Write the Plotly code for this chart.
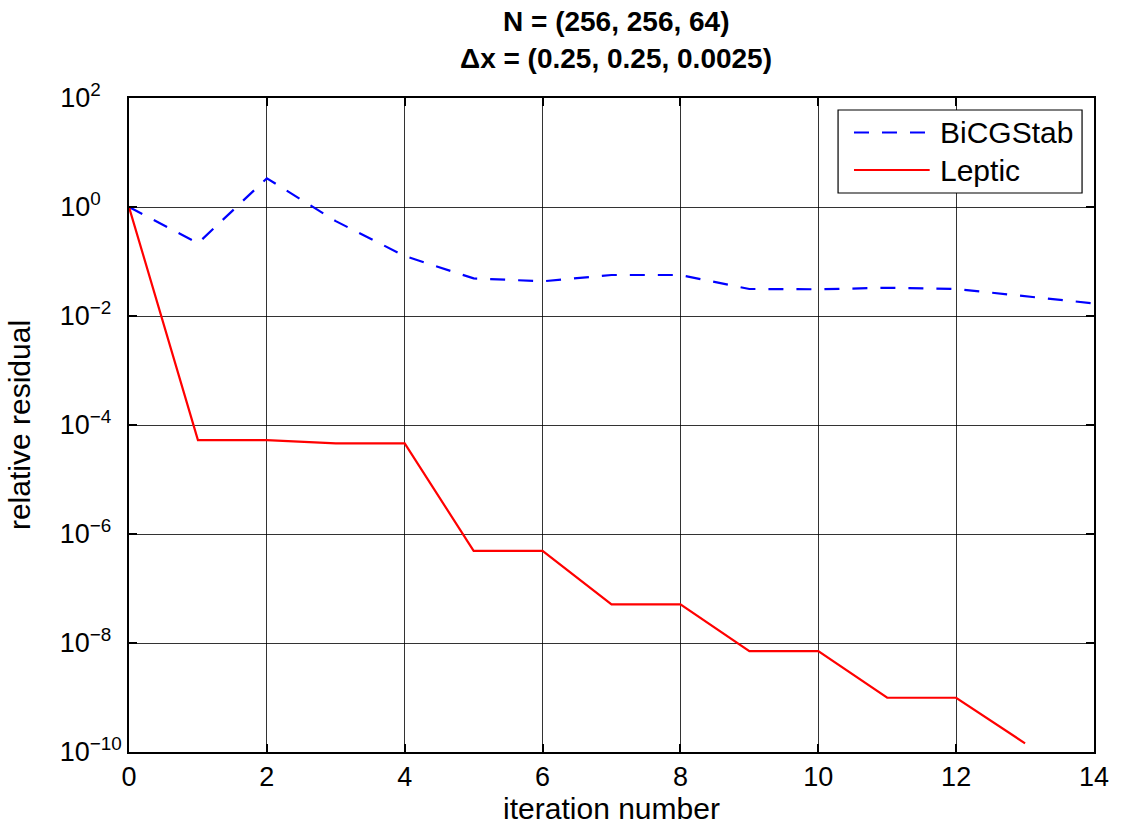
import plotly.graph_objects as go

# Iteration counts and relative residuals for both solvers
iterations_bicg = [0, 1, 2, 3, 4, 5, 6, 7, 8, 9, 10, 11, 12, 13, 14]
residual_bicg = [1.0, 0.216, 3.36, 0.55, 0.126, 0.049, 0.0433, 0.0565, 0.0565,
                 0.0313, 0.0309, 0.033, 0.0313, 0.0233, 0.017]

iterations_leptic = [0, 1, 2, 3, 4, 5, 6, 7, 8, 9, 10, 11, 12, 13]
residual_leptic = [1.0, 5.3e-5, 5.3e-5, 4.6e-5, 4.6e-5, 4.9e-7, 4.9e-7, 5.1e-8,
                   5.1e-8, 7.1e-9, 7.1e-9, 9.9e-10, 9.9e-10, 1.44e-10]

series_names = ["BiCGStab", "Leptic"]
series_colors = ["#0000ff", "#ff0000"]
series_dashes = ["15px,13px", "solid"]

x_ticks = [0, 2, 4, 6, 8, 10, 12, 14]
y_exponents = [2, 0, -2, -4, -6, -8, -10]
y_ticks = [10.0 ** e for e in y_exponents]


def power_label(e):
    # "10" mantissa stays in one column; short exponents get trailing padding
    exp = str(e).replace("-", "\u2212")
    pad = {1: 4, 2: 2}.get(len(exp), 0)
    return "10<sup>%s%s</sup>" % (exp, "\u00a0" * pad)


y_ticktext = [power_label(e) for e in y_exponents]

FONT = "Liberation Sans, Arial, Helvetica, sans-serif"

# plot-area geometry in pixels (used to place the boxed legend in paper units)
L, R, T, B = 129, 1098, 98, 752
W, H = R - L, B - T


def px(x):
    return (x - L) / W


def py(y):
    return (B - y) / H


fig = go.Figure()
fig.add_trace(go.Scatter(
    x=iterations_bicg, y=residual_bicg, mode="lines", name=series_names[0],
    line=dict(color=series_colors[0], width=2.2, dash=series_dashes[0]),
    showlegend=False,
))
fig.add_trace(go.Scatter(
    x=iterations_leptic, y=residual_leptic, mode="lines", name=series_names[1],
    line=dict(color=series_colors[1], width=2.2, dash=series_dashes[1]),
    showlegend=False,
))

axis_common = dict(
    showline=True, linecolor="black", linewidth=1.5, mirror="allticks",
    ticks="inside", ticklen=8, tickwidth=1.5, tickcolor="black",
    showgrid=True, gridcolor="rgba(0,0,0,0.8)", gridwidth=1,
    zeroline=False, tickfont=dict(family=FONT, size=27, color="black"),
)

# boxed legend with long line samples
shapes = [dict(type="rect", xref="paper", yref="paper",
               x0=px(841), x1=px(1086), y0=py(193), y1=py(110),
               line=dict(color="black", width=1.2), fillcolor="white", layer="above")]
annotations = []
for i, (name, color, dash) in enumerate(zip(series_names, series_colors, series_dashes)):
    yc = 132.5 + i * 37.5
    shapes.append(dict(type="line", xref="paper", yref="paper",
                       x0=px(857), x1=px(933), y0=py(yc), y1=py(yc),
                       line=dict(color=color, width=2.2, dash=dash), layer="above"))
    annotations.append(dict(text=name, xref="paper", yref="paper",
                            x=px(941), y=py(yc), xanchor="left", yanchor="middle",
                            showarrow=False,
                            font=dict(family=FONT, size=30, color="black")))

annotations += [
    dict(text="<b>N = (256, 256, 64)</b>", xref="paper", yref="paper",
         x=0.505, y=py(22), xanchor="center", yanchor="middle",
         showarrow=False, font=dict(family=FONT, size=28, color="black")),
    dict(text="<b>\u0394x = (0.25, 0.25, 0.0025)</b>", xref="paper", yref="paper",
         x=0.505, y=py(58), xanchor="center", yanchor="middle",
         showarrow=False, font=dict(family=FONT, size=28, color="black")),
]

fig.update_layout(
    width=1121, height=830,
    margin=dict(l=L, r=1121 - R, t=T, b=830 - B),
    paper_bgcolor="white", plot_bgcolor="white",
    font=dict(family=FONT, color="black"),
    showlegend=False,
    xaxis=dict(
        range=[0, 14], tickvals=x_ticks, ticktext=[str(v) for v in x_ticks],
        title=dict(text="iteration number", font=dict(family=FONT, size=30), standoff=5),
        **axis_common,
    ),
    yaxis=dict(
        type="log", range=[-10, 2], tickvals=y_ticks, ticktext=y_ticktext,
        title=dict(text="relative residual", font=dict(family=FONT, size=30), standoff=20),
        **axis_common,
    ),
    shapes=shapes,
    annotations=annotations,
)

fig.write_html("out.html")
